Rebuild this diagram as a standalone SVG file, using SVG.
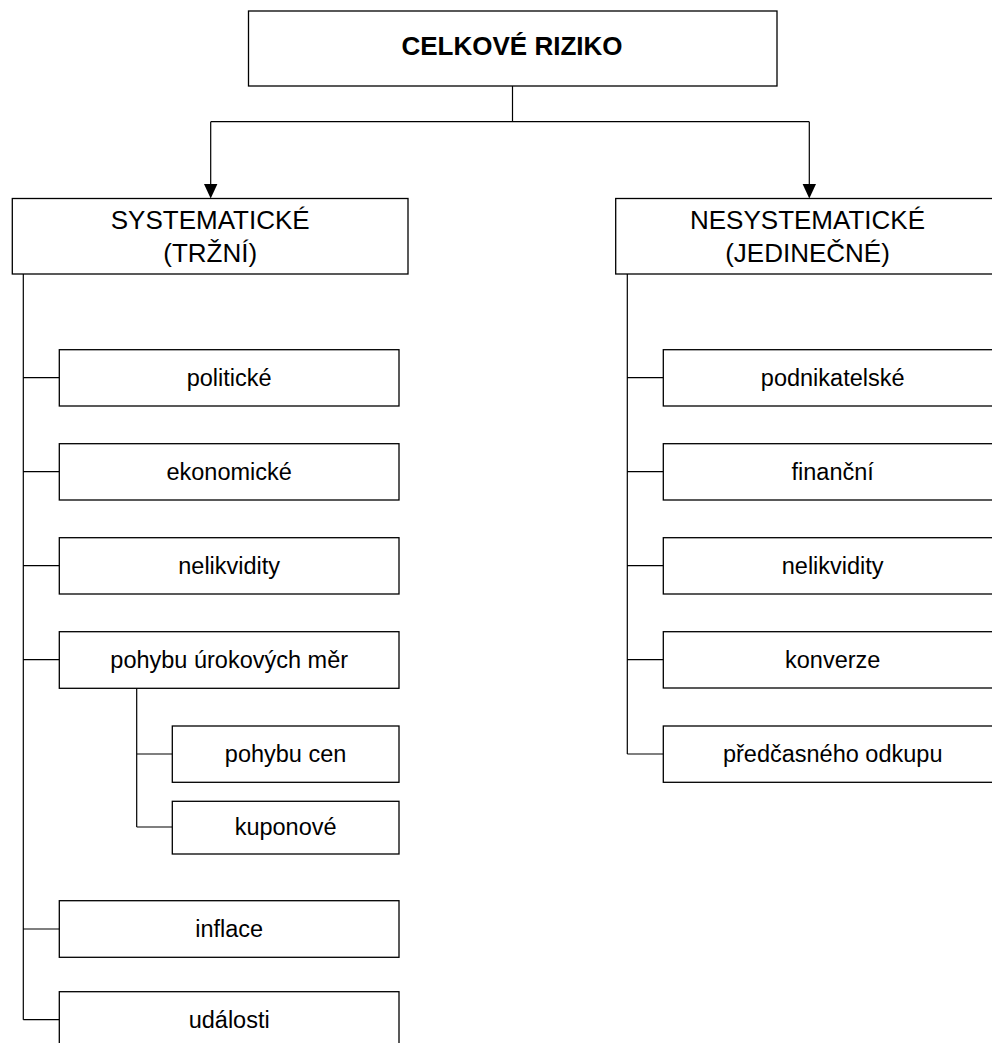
<svg xmlns="http://www.w3.org/2000/svg" width="992" height="1043" viewBox="0 0 992 1043">
  <defs>
    <style>
      .box { fill: #ffffff; stroke: #000000; stroke-width: 1.3; }
      .conn { fill: none; stroke: #000000; stroke-width: 1.2; }
      .head { fill: #000000; stroke: none; }
      text { font-family: "Liberation Sans", Arial, sans-serif; fill: #000000; text-anchor: middle; }
      .title { font-size: 26px; font-weight: bold; }
      .hdr { font-size: 26px; }
      .lbl { font-size: 23.5px; }
    </style>
  </defs>
  <rect x="0" y="0" width="992" height="1043" fill="#ffffff"/>

  <g id="connectors">
    <path class="conn" d="M512.5,86 V121.7 M210.7,121.7 H809.3 M210.7,121.7 V186 M809.3,121.7 V186"/>
    <polygon class="head" points="204,184 217.4,184 210.7,198.5"/>
    <polygon class="head" points="802.6,184 816,184 809.3,198.5"/>
    <path class="conn" d="M23.3,274 V1019.7 M23.3,377.7 H59.3 M23.3,471.7 H59.3 M23.3,565.7 H59.3 M23.3,659.7 H59.3 M23.3,929 H59.3 M23.3,1019.7 H59.3"/>
    <path class="conn" d="M136.7,688.3 V827 M136.7,754 H172.3 M136.7,827 H172.3"/>
    <path class="conn" d="M627.3,274 V754 M627.3,377.7 H663.3 M627.3,471.7 H663.3 M627.3,565.7 H663.3 M627.3,659.7 H663.3 M627.3,754 H663.3"/>
  </g>

  <g id="celkove">
    <rect class="box" x="248.5" y="11" width="528.5" height="75"/>
    <text class="title" x="512" y="55">CELKOVÉ RIZIKO</text>
  </g>
  <g id="systematicke">
    <rect class="box" x="12.3" y="198.5" width="395.7" height="75.5"/>
    <text class="hdr" x="210.2" y="228.5">SYSTEMATICKÉ</text>
    <text class="hdr" x="210.2" y="262">(TRŽNÍ)</text>
  </g>
  <g id="nesystematicke">
    <rect class="box" x="615.7" y="198.5" width="386.3" height="75.5"/>
    <text class="hdr" x="807.5" y="228.5">NESYSTEMATICKÉ</text>
    <text class="hdr" x="807.5" y="262">(JEDINEČNÉ)</text>
  </g>

  <g id="politicke">
    <rect class="box" x="59.3" y="349.7" width="339.7" height="56.3"/>
    <text class="lbl" x="229.2" y="386">politické</text>
  </g>
  <g id="ekonomicke">
    <rect class="box" x="59.3" y="443.7" width="339.7" height="56.3"/>
    <text class="lbl" x="229.2" y="480">ekonomické</text>
  </g>
  <g id="nelikvidity-s">
    <rect class="box" x="59.3" y="537.7" width="339.7" height="56.3"/>
    <text class="lbl" x="229.2" y="574">nelikvidity</text>
  </g>
  <g id="pohybu-urokovych">
    <rect class="box" x="59.3" y="631.7" width="339.7" height="56.6"/>
    <text class="lbl" x="229.2" y="668">pohybu úrokových měr</text>
  </g>
  <g id="pohybu-cen">
    <rect class="box" x="172.3" y="726" width="226.7" height="56.3"/>
    <text class="lbl" x="285.6" y="762">pohybu cen</text>
  </g>
  <g id="kuponove">
    <rect class="box" x="172.3" y="801.3" width="226.7" height="52.7"/>
    <text class="lbl" x="285.6" y="835">kuponové</text>
  </g>
  <g id="inflace">
    <rect class="box" x="59.3" y="900.7" width="339.7" height="56.6"/>
    <text class="lbl" x="229.2" y="937">inflace</text>
  </g>
  <g id="udalosti">
    <rect class="box" x="59.3" y="991.7" width="339.7" height="56.3"/>
    <text class="lbl" x="229.2" y="1028">události</text>
  </g>

  <g id="podnikatelske">
    <rect class="box" x="663.3" y="349.7" width="338.7" height="56.3"/>
    <text class="lbl" x="832.7" y="386">podnikatelské</text>
  </g>
  <g id="financni">
    <rect class="box" x="663.3" y="443.7" width="338.7" height="56.3"/>
    <text class="lbl" x="832.7" y="480">finanční</text>
  </g>
  <g id="nelikvidity-n">
    <rect class="box" x="663.3" y="537.7" width="338.7" height="56.3"/>
    <text class="lbl" x="832.7" y="574">nelikvidity</text>
  </g>
  <g id="konverze">
    <rect class="box" x="663.3" y="631.7" width="338.7" height="56.3"/>
    <text class="lbl" x="832.7" y="668">konverze</text>
  </g>
  <g id="predcasneho">
    <rect class="box" x="663.3" y="726" width="338.7" height="56.3"/>
    <text class="lbl" x="832.7" y="762">předčasného odkupu</text>
  </g>
</svg>
